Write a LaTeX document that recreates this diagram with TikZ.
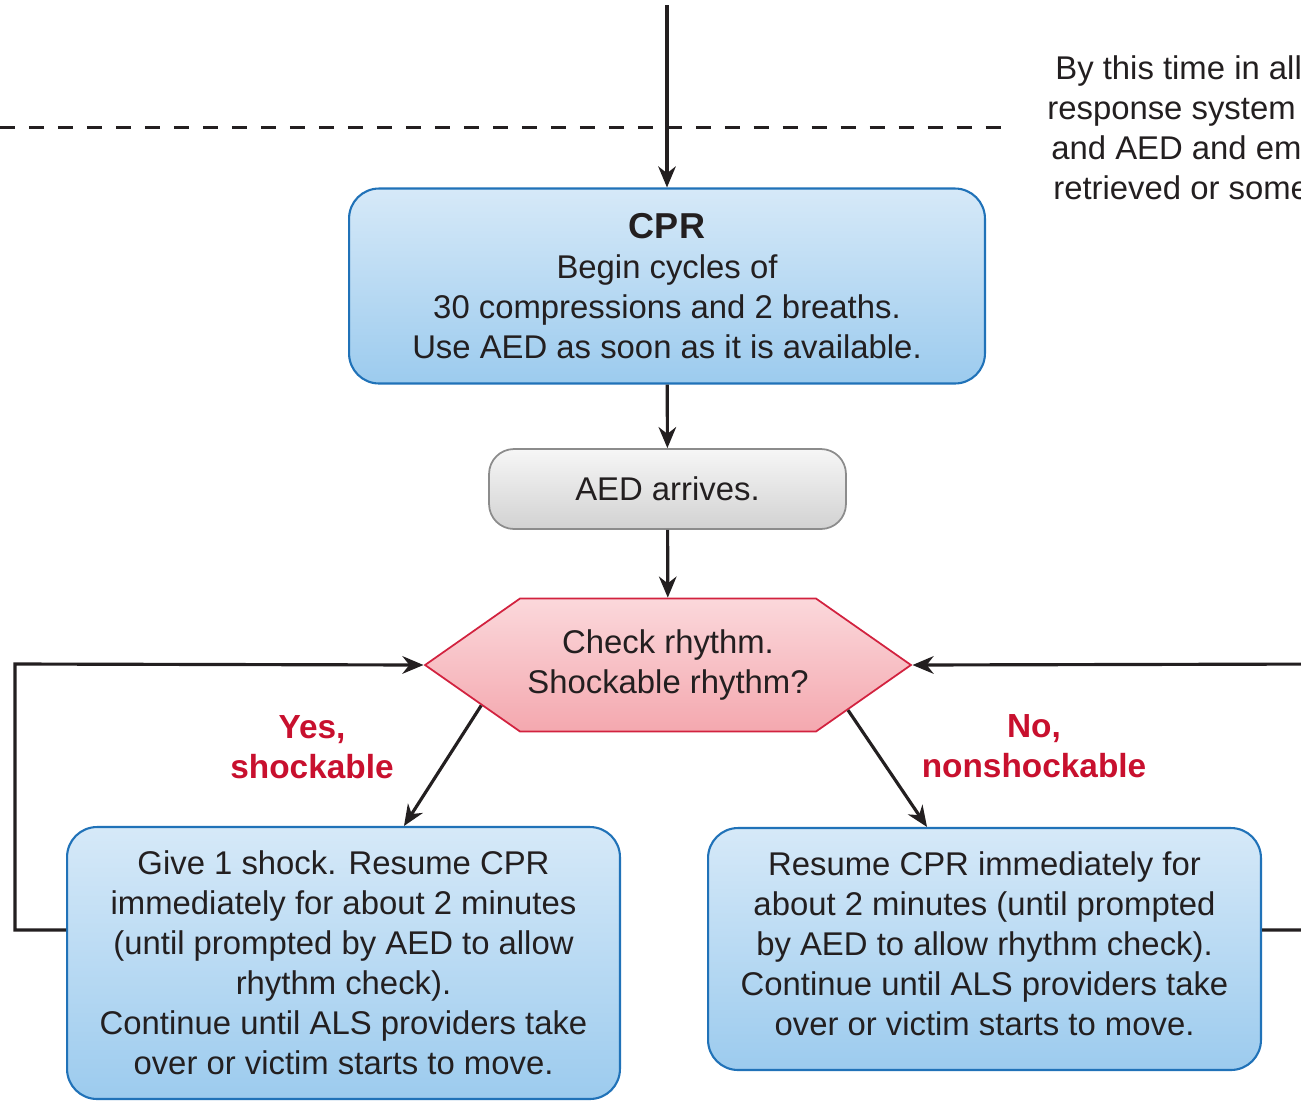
\documentclass[tikz,border=0pt]{standalone}
\usepackage{fontspec}
\setmainfont{Liberation Sans}
\usetikzlibrary{arrows.meta,calc,positioning,shapes.symbols}
\definecolor{ink}{HTML}{231F20}
\definecolor{blueline}{HTML}{2072B8}
\definecolor{bluetop}{HTML}{D6E9F8}
\definecolor{bluebot}{HTML}{9CCBEE}
\definecolor{greyline}{HTML}{8C8C8C}
\definecolor{greytop}{HTML}{F6F6F6}
\definecolor{greybot}{HTML}{D2D2D2}
\definecolor{pinkline}{HTML}{D2223F}
\definecolor{pinktop}{HTML}{FBD8DB}
\definecolor{pinkbot}{HTML}{F4A8AF}
\definecolor{labelred}{HTML}{C8102E}

\begin{document}
\begin{tikzpicture}[x=0.02cm,y=-0.02cm,
    font=\fontsize{18.7}{22.8}\selectfont,
    >={Stealth[length=12pt,width=10pt]},
    flow/.style={draw=ink,line width=1.8pt},
    stepbox/.style={draw=blueline,line width=1.2pt,rounded corners=0.6cm,
        top color=bluetop,bottom color=bluebot,text=ink,align=center,inner sep=0pt},
    arrivebox/.style={draw=greyline,line width=1pt,rounded corners=0.5cm,
        top color=greytop,bottom color=greybot,text=ink,align=center,inner sep=0pt},
    checkbox/.style={signal,signal to=east and west,signal pointer angle=70,
        draw=pinkline,line width=1pt,top color=pinktop,bottom color=pinkbot,
        text=ink,align=center,inner sep=0pt},
    answer/.style={text=labelred,font=\fontsize{19}{22.8}\selectfont\bfseries,align=center}]
    \useasboundingbox (0,0) rectangle (1301,1100);
    \clip (0,0) rectangle (1301,1100);

    % boxes
    \node[stepbox,minimum width=12.72cm,minimum height=3.9cm] (cpr) at (667,286)
        {{\bfseries\fontsize{20.5}{22.8}\selectfont CPR}\\Begin cycles of\\30 compressions and 2 breaths.\\Use AED as soon as it is available.};
    \node[arrivebox,minimum width=7.14cm,minimum height=1.6cm] (aed) at (667.5,489) {AED arrives.};
    \node[checkbox,minimum width=9.72cm,minimum height=2.66cm] (chk) at (668,665)
        {Check rhythm.\\Shockable rhythm?};
    \node[stepbox,minimum width=11.06cm,minimum height=5.44cm] (shock) at (343.5,963)
        {Give 1 shock. Resume CPR\\immediately for about 2 minutes\\(until prompted by AED to allow\\rhythm check).\\Continue until ALS providers take\\over or victim starts to move.};
    \node[stepbox,minimum width=11.06cm,minimum height=4.84cm] (noshock) at (984.5,949)
        {Resume CPR immediately for\\about 2 minutes (until prompted\\by AED to allow rhythm check).\\Continue until ALS providers take\\over or victim starts to move.\\[-17pt]\mbox{}};

    % labels
    \node[answer] (yes) at (312,747) {Yes,\\shockable};
    \node[answer] (no) at (1034,746) {No,\\nonshockable};
    \node[text=ink,anchor=north west,align=left,inner sep=0pt] (note) at (1047,55)
        {\hspace*{0.16cm}By this time in all\\response system\\\hspace*{0.08cm}and AED and em\\\hspace*{0.12cm}retrieved or some};

    % connectors
    \coordinate (entry) at (667,5);
    \coordinate (dashL) at (0,127);
    \coordinate (dashR) at (1005,127);
    \coordinate (lbot) at (15,930);
    \coordinate (ltop) at (15,664);
    \coordinate (rbot) at (1330,930);
    \coordinate (rtop) at (1330,664);

    \draw[draw=ink,line width=1.7pt,dash pattern=on 8.5pt off 8pt] (dashL) -- (dashR);
    \path[->]
        (entry) edge[flow] (cpr)
        (cpr) edge[flow] (aed)
        (aed) edge[flow] (chk);
    \draw[flow,->] ($(chk.south west)!0.4!(chk.west)$) -- ([xshift=1.21cm]shock.north);
    \draw[flow,->] ($(chk.south east)!0.33!(chk.east)$) -- ([xshift=-1.15cm]noshock.north);
    \draw[flow,->] (shock.west |- lbot) -- (lbot) -- (ltop) -- (chk.west);
    \draw[flow,->] (noshock.east |- rbot) -- (rbot) -- (rtop) -- (chk.east);
\end{tikzpicture}
\end{document}
